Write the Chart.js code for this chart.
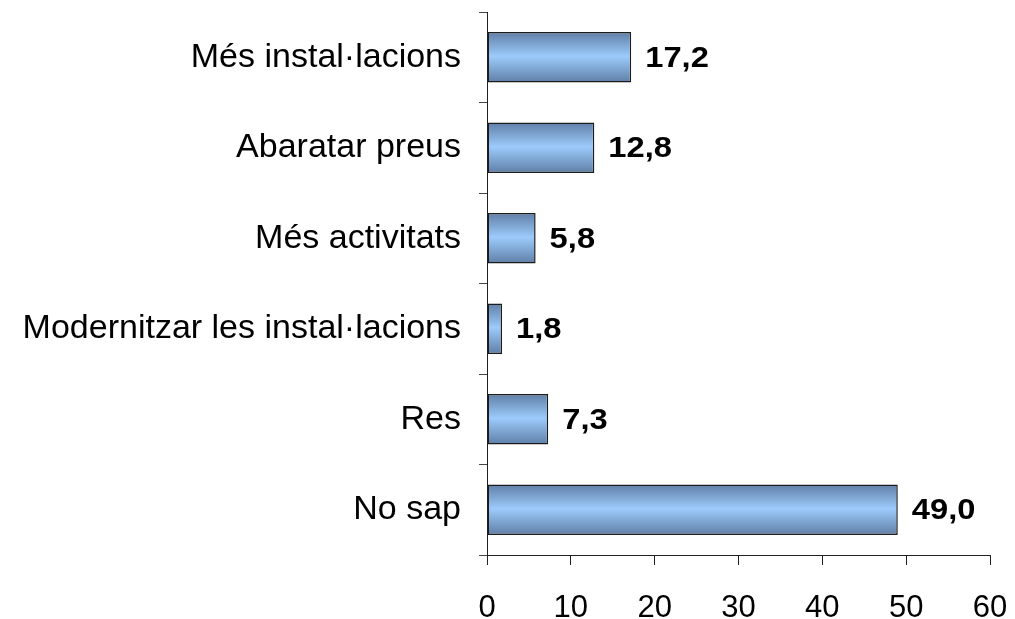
<!DOCTYPE html>
<html lang="ca">
<head>
<meta charset="utf-8">
<title>Millores</title>
<script src="https://cdn.jsdelivr.net/npm/chart.js@4.4.1/dist/chart.umd.min.js"></script>
<style>
    html, body { margin: 0; padding: 0; background: #fff; }
    #wrap { width: 1015px; height: 619px; }
</style>
</head>
<body>
<div id="wrap"><canvas id="millores" width="1015" height="619"></canvas></div>
<script>
const categories = [
    'Més instal·lacions',
    'Abaratar preus',
    'Més activitats',
    'Modernitzar les instal·lacions',
    'Res',
    'No sap',
];
const percentages = [17.2, 12.8, 5.8, 1.8, 7.3, 49.0];
const xTicks = [0, 10, 20, 30, 40, 50, 60];

const FONT = "'Liberation Sans', Arial, Helvetica, sans-serif";
const BAR_PCT = 0.56;

// vertical steel-blue shading on each bar, lighter in the middle
function barFill(ctx) {
    const chart = ctx.chart;
    const yScale = chart.scales.y;
    if (!chart.chartArea || !yScale) return '#99ccff';
    const yc = yScale.getPixelForValue(ctx.dataIndex);
    const half = (yScale.height / categories.length) * BAR_PCT / 2;
    const g = chart.ctx.createLinearGradient(0, yc - half, 0, yc + half);
    g.addColorStop(0, '#5f7ea6');
    g.addColorStop(0.48, '#9ccbfb');
    g.addColorStop(1, '#5f7ea6');
    return g;
}

// bold value after the end of each bar, a little wide like the axis text
const valueLabels = {
    id: 'valueLabels',
    afterDatasetsDraw(chart) {
        const c = chart.ctx;
        const meta = chart.getDatasetMeta(0);
        meta.data.forEach((bar, i) => {
            const txt = percentages[i].toFixed(1).replace('.', ',');
            c.save();
            c.translate(bar.x + 14, bar.y + 1);
            c.scale(1.09, 1);
            c.font = 'bold 30px ' + FONT;
            c.fillStyle = '#000';
            c.textAlign = 'left';
            c.textBaseline = 'middle';
            c.fillText(txt, 0, 0);
            c.restore();
        });
    },
};

new Chart(document.getElementById('millores'), {
    type: 'bar',
    data: {
        labels: categories,
        datasets: [
            {
                data: percentages,
                backgroundColor: barFill,
                borderColor: '#1c1c1c',
                borderWidth: 1.5,
                borderSkipped: false,
                categoryPercentage: 1,
                barPercentage: BAR_PCT,
            },
        ],
    },
    options: {
        indexAxis: 'y',
        responsive: false,
        animation: false,
        layout: { padding: { top: 12, right: 25, bottom: 0, left: 0 } },
        plugins: {
            legend: { display: false },
            tooltip: { enabled: false },
        },
        scales: {
            x: {
                min: 0,
                max: 60,
                afterBuildTicks(scale) {
                    scale.ticks = xTicks.map((v) => ({ value: v }));
                },
                afterFit(scale) {
                    scale.height = 64;
                    scale.paddingLeft = 0;
                    scale.paddingRight = 0;
                },
                border: { display: true, color: '#222', width: 1 },
                grid: {
                    drawOnChartArea: false,
                    drawTicks: true,
                    tickLength: 10,
                    color: '#222',
                },
                ticks: {
                    color: '#000',
                    padding: 25,
                    maxRotation: 0,
                    font: { family: FONT, size: 31 },
                },
            },
            y: {
                afterFit(scale) {
                    scale.width = 487;
                    scale.paddingTop = 0;
                    scale.paddingBottom = 0;
                },
                border: { display: true, color: '#222', width: 1 },
                grid: {
                    offset: true,
                    drawOnChartArea: false,
                    drawTicks: true,
                    tickLength: 8,
                    color: '#444',
                },
                ticks: {
                    color: '#000',
                    padding: 18,
                    font: { family: FONT, size: 34 },
                },
            },
        },
    },
    plugins: [valueLabels],
});
</script>
</body>
</html>
